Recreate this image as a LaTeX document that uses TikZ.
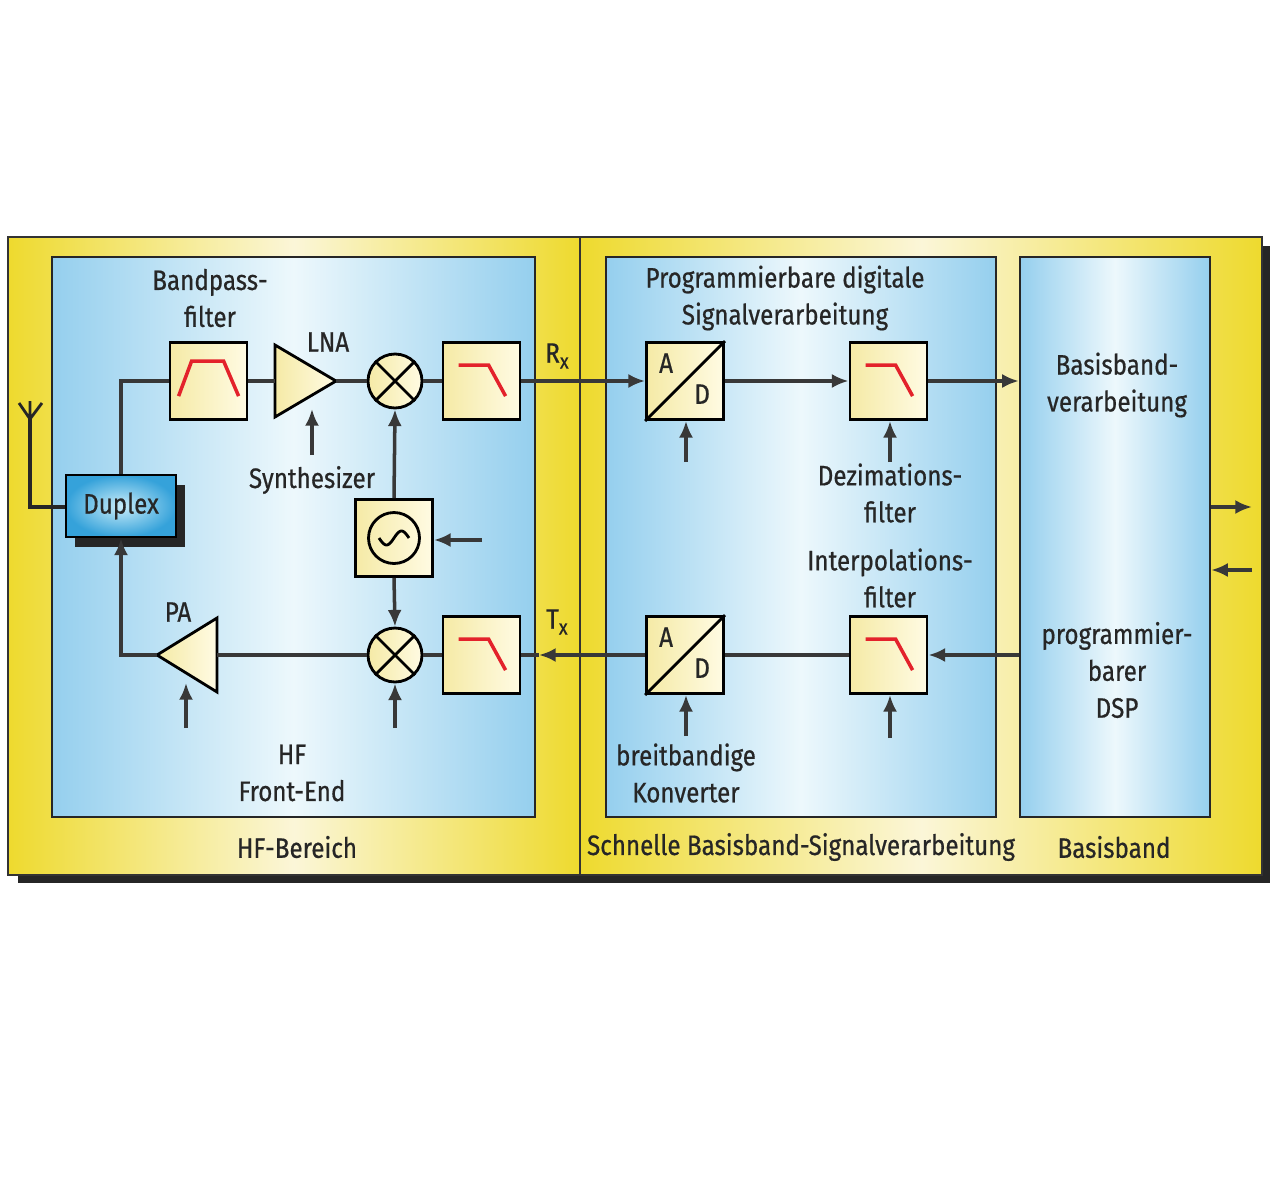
\documentclass[tikz,border=0pt]{standalone}
\usepackage{fontspec}
\setmainfont{Fira Sans}[FakeStretch=0.86,FakeBold=0.6]
\usetikzlibrary{arrows.meta,calc}
\definecolor{fyel}{HTML}{EEDA2E}
\definecolor{fcream}{HTML}{FBF6D8}
\definecolor{bblue}{HTML}{95CFEE}
\definecolor{bwhite}{HTML}{EDF8FC}
\definecolor{cream1}{HTML}{F5EAA6}
\definecolor{cream2}{HTML}{FFFBE3}
\definecolor{fred}{HTML}{E3222B}
\definecolor{lgray}{HTML}{383838}
\definecolor{txt}{HTML}{262626}
\definecolor{dblue}{HTML}{35A2DA}
\definecolor{lblue}{HTML}{C8ECF9}
\newcommand\lpfsym[1]{\draw[filt] ([shift={(17,24)}]#1.north west) -- ([shift={(47,24)}]#1.north west) -- ([shift={(64,55)}]#1.north west);}
\newcommand\bpfsym[1]{\draw[filt] ([shift={(10,55)}]#1.north west) -- ([shift={(23,20)}]#1.north west) -- ([shift={(55,20)}]#1.north west) -- ([shift={(70,55)}]#1.north west);}
\newcommand\adsym[1]{\draw[line width=1.6pt] (#1.south west) -- (#1.north east);
  \node[lbl] at ([shift={(21,22)}]#1.north west) {A};
  \node[lbl] at ([shift={(57,53)}]#1.north west) {D};}
\newcommand\mixsym[1]{\draw[line width=1.6pt] (#1.north west) -- (#1.south east) (#1.north east) -- (#1.south west);}
\begin{document}
\begin{tikzpicture}[x=0.02cm,y=-0.02cm,
 frame/.style={draw=black!80, line width=1pt, left color=fyel, right color=fyel, middle color=fcream, minimum height=12.76cm, inner sep=0},
 panel/.style={draw=black!85, line width=1.3pt, left color=bblue, right color=bblue, middle color=bwhite, minimum height=11.2cm, inner sep=0},
 blk/.style={draw=black, line width=1.6pt, left color=cream1, right color=cream2, minimum size=1.54cm, inner sep=0},
 mixer/.style={circle, draw=black, line width=1.6pt, left color=cream1, right color=cream2, minimum size=1.08cm, inner sep=0},
 wire/.style={draw=lgray, line width=2pt},
 arr/.style={wire, -{Latex[length=9.5pt,width=8pt]}},
 lbl/.style={font=\fontsize{16}{21}\selectfont, text=txt, align=center, inner sep=0},
 filt/.style={draw=fred, line width=2pt, line join=miter}
]
\useasboundingbox (0,0) rectangle (1280,1190);
\fill[white] (0,0) rectangle (1280,1190);
% shadow
\fill[black!85] (18,246) rectangle (1270,883);
% frames
\node[frame, minimum width=11.44cm] (fl) at (294,556) {};
\node[frame, minimum width=13.64cm] (fr) at (921,556) {};
% panels
\node[panel, minimum width=9.66cm] (hf) at (293.5,537) {};
\node[panel, minimum width=7.8cm] (prog) at (801,537) {};
\node[panel, minimum width=3.8cm] (bb) at (1115,537) {};
% frame labels
\node[lbl] (lhfb) at (297,847) {HF-Bereich};
\node[lbl] (lsbs) at (801,847) {Schnelle Basisband-Signalverarbeitung};
\node[lbl] (lbbf) at (1114,847) {Basisband};
% panel labels
\node[lbl] (lhf) at (292,773) {HF\\Front-End};
\node[lbl] (lprog) at (785,298) {Programmierbare digitale\\Signalverarbeitung};
\node[lbl] (lbbv) at (1117,385) {Basisband-\\verarbeitung};
\node[lbl] (ldsp) at (1117,670) {programmier-\\barer\\DSP};
% blocks
\node[blk] (bp) at (208.5,381) {};
\bpfsym{bp}
\node[blk] (lpa) at (481.5,381) {};
\lpfsym{lpa}
\node[blk] (lpb) at (481.5,655) {};
\lpfsym{lpb}
\node[blk] (ada) at (685,381) {};
\adsym{ada}
\node[blk] (adb) at (685,655) {};
\adsym{adb}
\node[blk] (dz) at (888.5,381) {};
\lpfsym{dz}
\node[blk] (ip) at (888.5,655) {};
\lpfsym{ip}
\node[blk] (osc) at (394,538) {};
\node[circle, draw=black, line width=1.6pt, minimum size=1.02cm, inner sep=0] (oscc) at (osc.center) {};
\draw[line width=1.6pt, domain=-1:1, samples=40, shift={(osc.center)}] plot ({15*\x},{-7*sin(\x*180)});
\node[mixer] (ma) at (395,381) {};
\mixsym{ma}
\node[mixer] (mb) at (395,655) {};
\mixsym{mb}
% triangles
\coordinate (lnaA) at (275,345);
\coordinate (lnaT) at (336,381);
\coordinate (lnaB) at (275,417);
\coordinate (lnaI) at (275,381);
\draw[line width=1.6pt, left color=cream1, right color=cream2, line join=miter] (lnaA) -- (lnaT) -- (lnaB) -- cycle;
\coordinate (paA) at (217,618);
\coordinate (paT) at (157,655);
\coordinate (paB) at (217,692);
\coordinate (paI) at (217,655);
\draw[line width=1.6pt, left color=cream1, right color=cream2, line join=miter] (paA) -- (paT) -- (paB) -- cycle;
% duplex
\fill[black!85] (75,485) rectangle (185,547);
\node[draw=black, line width=1.6pt, inner color=lblue, outer color=dblue, minimum width=2.2cm, minimum height=1.24cm, inner sep=0, font=\fontsize{16}{21}\selectfont, text=txt] (dup) at (121,506) {Duplex};
% antenna
\coordinate (antT) at (30,401);
\coordinate (antJ) at (30,419);
\coordinate (antL) at (19,403);
\coordinate (antR) at (42,403);
\coordinate (antC) at (30,507);
\draw[wire, line width=1.6pt, draw=black!85] (antL) -- (antJ) -- (antR) (antT) -- (antJ);
\draw[wire, draw=black!85] (antJ) -- (antC) -- (antC -| dup.west);
% RX chain
\draw[wire] (dup.north) |- (bp.west);
\draw[wire] (bp.east) -- (lnaI);
\draw[wire] (lnaT) -- (ma.west);
\draw[wire] (ma.east) -- (lpa.west);
\draw[arr] (lpa.east) -- (ada.west);
\draw[arr] (ada.east) -- (dz.west);
\draw[arr] (dz.east) -- (dz.east -| bb.west);
% TX chain
\coordinate (txa) at (539,655);
\draw[wire] (ip.west) -- (adb.east);
\draw[arr] (bb.west |- ip.east) -- (ip.east);
\draw[arr] (adb.west) -- (txa);
\draw[wire] (txa) -- (lpb.east);
\draw[wire] (lpb.west) -- (mb.east);
\draw[wire] (mb.west) -- (paI);
\draw[arr] (paT) -| (dup.south);
% synthesizer
\draw[arr] (osc.north) -- (ma.south);
\draw[arr] (osc.south) -- (mb.north);
\coordinate (oscin) at (482,540);
\draw[arr] (oscin) -- (oscin -| osc.east);
% control arrows
\coordinate (clna) at (312,455);
\coordinate (clnae) at (312,409);
\draw[arr] (clna) -- (clnae);
\coordinate (cpa) at (186,728);
\coordinate (cpae) at (186,683);
\draw[arr] (cpa) -- (cpae);
\coordinate (cmb) at (395,728);
\draw[arr] (cmb) -- (mb.south);
\coordinate (cada) at (686,462);
\draw[arr] (cada) -- (cada |- ada.south);
\coordinate (cdz) at (890,462);
\draw[arr] (cdz) -- (cdz |- dz.south);
\coordinate (cadb) at (686,736);
\draw[arr] (cadb) -- (cadb |- adb.south);
\coordinate (cip) at (890,738);
\draw[arr] (cip) -- (cip |- ip.south);
% baseband I/O
\coordinate (bbo) at (1252,507);
\draw[arr] (bb.east |- bbo) -- (bbo);
\coordinate (bbi) at (1252,570);
\draw[arr] (bbi) -- (bb.east |- bbi);
% labels
\node[lbl] (lbp) at (210,298) {Bandpass-\\filter};
\node[lbl] (llna) at (328,342) {LNA};
\node[lbl] (lsyn) at (312,480) {Synthesizer};
\node[lbl] (lpa2) at (178,612) {PA};
\node[lbl] (lrx) at (557,356) {R\raisebox{-0.4ex}{\fontsize{12}{12}\selectfont x}};
\node[lbl] (ltx) at (557,622) {T\raisebox{-0.4ex}{\fontsize{12}{12}\selectfont x}};
\node[lbl] (ldz) at (890,493) {Dezimations-\\filter};
\node[lbl] (lip) at (890,578) {Interpolations-\\filter};
\node[lbl] (lkon) at (686,773) {breitbandige\\Konverter};
\end{tikzpicture}
\end{document}
